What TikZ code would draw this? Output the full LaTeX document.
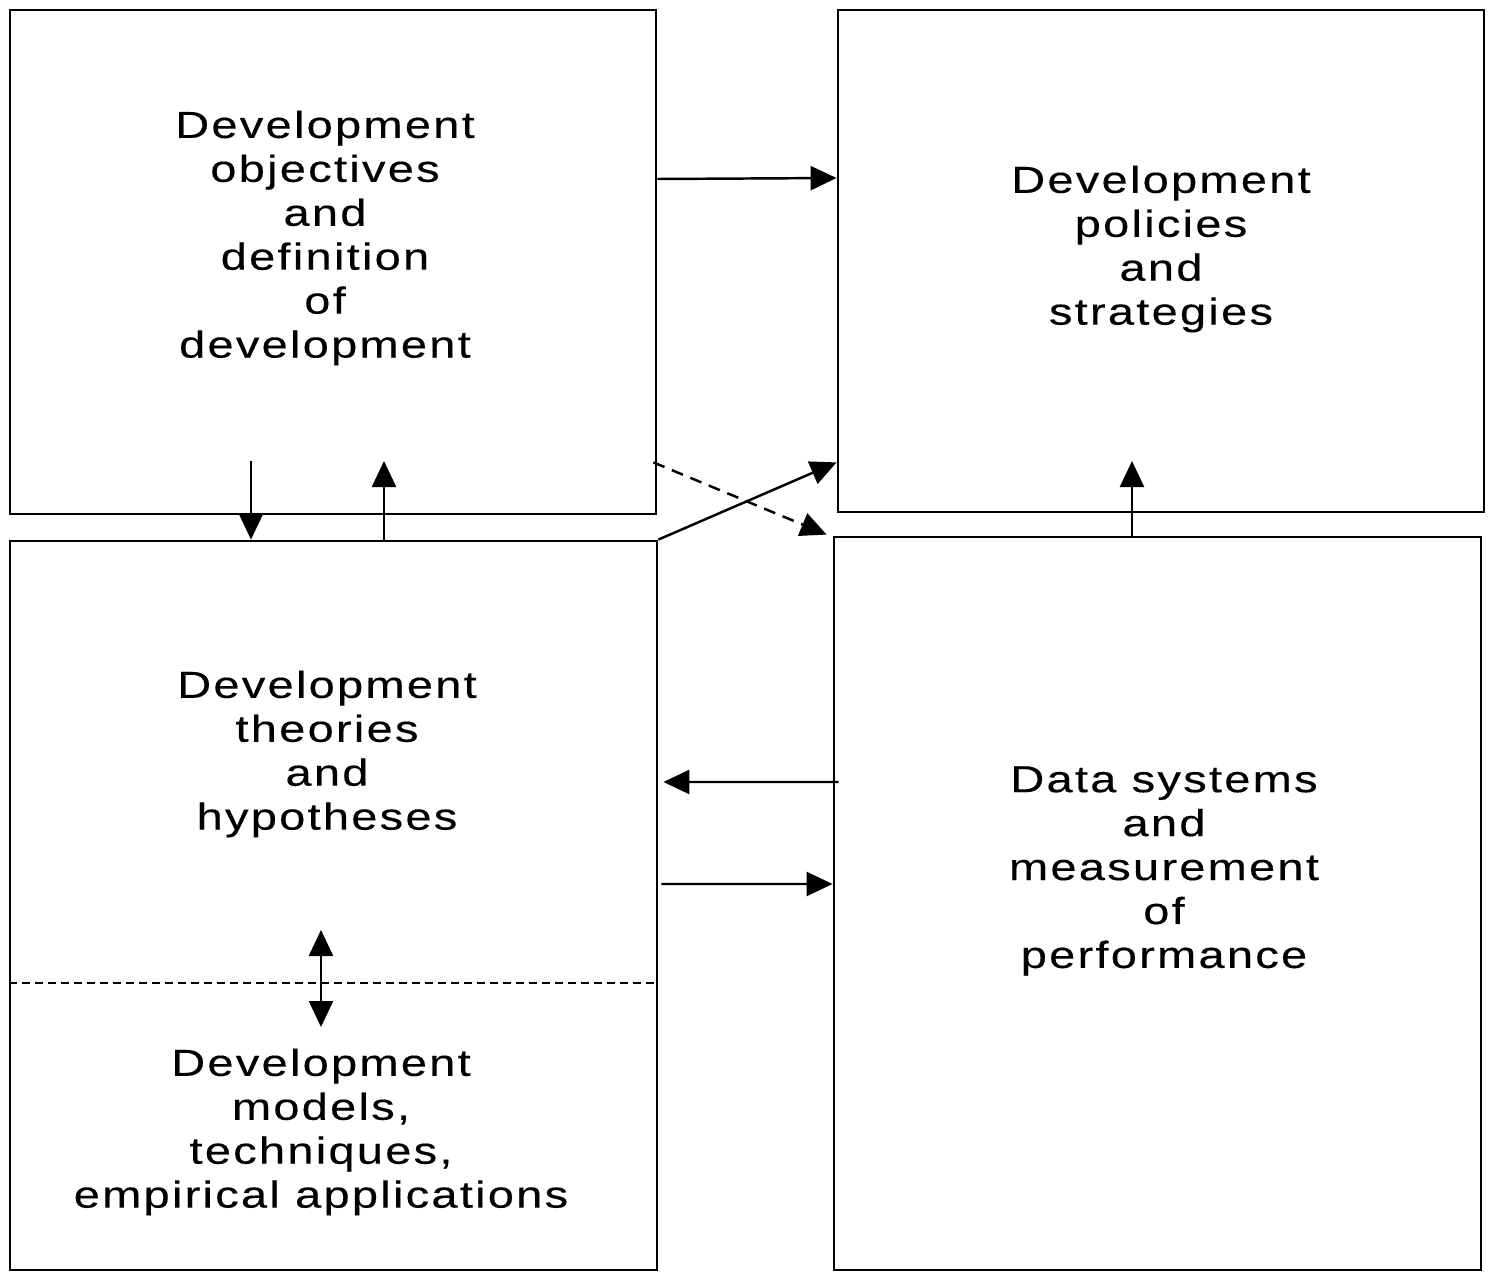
\documentclass[tikz,border=0pt]{standalone}
\usepackage{fontspec}
\setmainfont{Liberation Sans}
\newfontfamily\boxfont[FakeStretch=1.25,LetterSpace=6,FakeBold=0.3]{Liberation Sans}
\usetikzlibrary{arrows.meta}

\begin{document}
\begin{tikzpicture}[
    box/.style={draw, line width=0.8pt, inner sep=0pt},
    txt/.style={align=center, font=\boxfont\fontsize{10.7}{12.5}\selectfont},
    arr/.style={-{Triangle[length=2.6mm,width=2.4mm]}, line width=0.7pt}]
    \useasboundingbox (0,0) rectangle (14.91,-12.73);

    \node[box, minimum width=6.46cm, minimum height=5.04cm] (obj) at (3.33,-2.62) {};
    \node[box, minimum width=6.46cm, minimum height=5.02cm] (pol) at (11.61,-2.61) {};
    \node[box, minimum width=6.47cm, minimum height=7.29cm] (theo) at (3.335,-9.055) {};
    \node[box, minimum width=6.47cm, minimum height=7.33cm] (data) at (11.575,-9.035) {};

    \node[txt] (obj-txt) at (3.25,-2.38) {Development\\objectives\\and\\definition\\of\\development};
    \node[txt] (pol-txt) at (11.61,-2.49) {Development\\policies\\and\\strategies};
    \node[txt] (theo-txt) at (3.27,-7.54) {Development\\theories\\and\\hypotheses};
    \node[txt] (model-txt) at (3.21,-11.32) {Development\\models,\\techniques,\\empirical applications};
    \node[txt] (data-txt) at (11.64,-8.71) {Data systems\\and\\measurement\\of\\performance};

    \coordinate (down-from) at (2.51,-4.61);
    \coordinate (up-to) at (3.84,-4.61);
    \coordinate (pol-in) at (11.32,-4.61);
    \coordinate (link-top) at (3.21,-9.30);
    \coordinate (link-bot) at (3.21,-10.27);

    \draw[arr] ([yshift=8.3mm]obj.east) -- ([yshift=8.3mm]pol.west);
    \draw[arr] (down-from) -- (down-from |- theo.north);
    \draw[arr] (up-to |- theo.north) -- (up-to);
    \draw[arr] (theo.north east) -- ([yshift=5.1mm]pol.south west);
    \draw[arr, dash pattern=on 1.2mm off 0.8mm] ([xshift=-0.4mm,yshift=5.3mm]obj.south east) -- ([xshift=-0.6mm,yshift=0.1mm]data.north west);
    \draw[arr] (pol-in |- data.north) -- (pol-in);
    \draw[arr] ([xshift=0.6mm,yshift=12.15mm]data.west) -- ([xshift=0.5mm,yshift=12.35mm]theo.east);
    \draw[arr] ([xshift=0.3mm,yshift=2.15mm]theo.east) -- ([yshift=1.95mm]data.west);

    \draw[line width=0.6pt, dash pattern=on 0.8mm off 0.5mm] ([yshift=-7.75mm]theo.west) -- ([yshift=-7.75mm]theo.east);
    \draw[arr, {Triangle[length=2.6mm,width=2.4mm]}-{Triangle[length=2.6mm,width=2.4mm]}] (link-top) -- (link-bot);
\end{tikzpicture}
\end{document}
